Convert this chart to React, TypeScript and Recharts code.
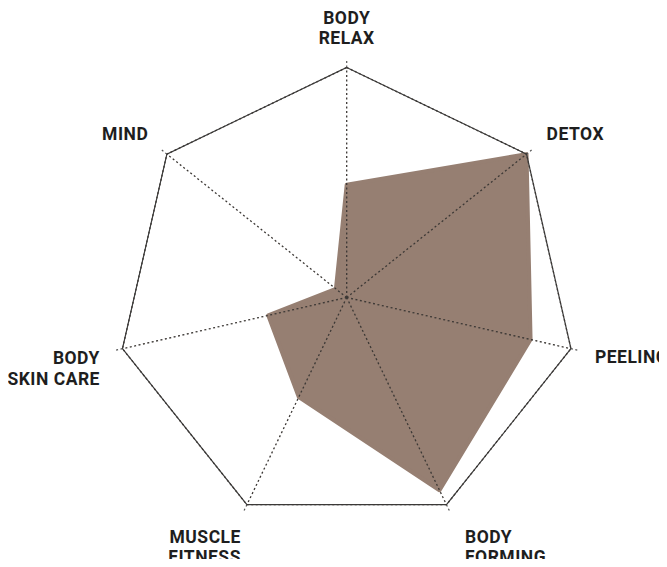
import { RadarChart, Radar, PolarGrid, PolarAngleAxis, PolarRadiusAxis } from "recharts"

// axis categories (clockwise from top)
const categories = ["BODY RELAX", "DETOX", "PEELING", "BODY FORMING", "MUSCLE FITNESS", "BODY SKIN CARE", "MIND"]
// how each axis label is broken over lines
const tickLines = [["BODY", "RELAX"], ["DETOX"], ["PEELING"], ["BODY", "FORMING"], ["MUSCLE", "FITNESS"], ["BODY", "SKIN CARE"], ["MIND"]]
// series values (0..1)
const scores = [0.49, 1.0, 0.82, 0.93, 0.48, 0.35, 0.06]

const data = categories.map((name, i) => ({ name, value: scores[i] }))

const W = 667
const H = 567
const CX = 346.7
const CY = 297.5
const R = 230
const FILL = "#967f72"

// label placement relative to each vertex: dx, dy of the first baseline, anchor, line height
const labelLayout = [
    { dx: 0, dy: -44, anchor: "middle", lh: 20 },
    { dx: 20, dy: -14, anchor: "start", lh: 20 },
    { dx: 24, dy: 14.6, anchor: "start", lh: 20 },
    { dx: 18.5, dy: 38.6, anchor: "start", lh: 20 },
    { dx: -6, dy: 38.6, anchor: "end", lh: 20 },
    { dx: -22.5, dy: 15.6, anchor: "end", lh: 21 },
    { dx: -18.6, dy: -14, anchor: "end", lh: 20 },
]

const AxisTick = (props: any) => {
    const i = props.index
    const a = ((90 - (i * 360) / categories.length) * Math.PI) / 180
    const vx = CX + R * Math.cos(a)
    const vy = CY - R * Math.sin(a)
    const l = labelLayout[i]
    return (
        <text
            x={vx + l.dx}
            y={vy + l.dy}
            textAnchor={l.anchor}
            fill="#1e1e1e"
            fontFamily="Roboto, sans-serif"
            fontWeight={700}
            fontSize={17.5}
            letterSpacing={0.5}
        >
            {tickLines[i].map((t, k) => (
                <tspan key={k} x={vx + l.dx} dy={k === 0 ? 0 : l.lh}>
                    {t}
                </tspan>
            ))}
        </text>
    )
}

export default function App() {
    return (
        <div style={{ width: W, height: H, margin: -8, background: "#fff", overflow: "hidden" }}>
            <RadarChart width={W} height={H} data={data} cx={CX} cy={CY} outerRadius={R} margin={{ top: 0, right: 0, bottom: 0, left: 0 }}>
                <PolarRadiusAxis domain={[0, 1]} tick={false} axisLine={false} />
                <Radar
                    dataKey="value"
                    fill={FILL}
                    fillOpacity={1}
                    stroke={FILL}
                    strokeWidth={4}
                    strokeLinejoin="round"
                    isAnimationActive={false}
                    dot={false}
                />
                <PolarGrid
                    gridType="polygon"
                    polarRadius={[R]}
                    stroke="#3c3835"
                    strokeWidth={1.3}
                    strokeDasharray="2 2.5"
                    zIndex={600}
                />
                <PolarAngleAxis
                    dataKey="name"
                    axisLineType="polygon"
                    axisLine={{ stroke: "#3a3a3a", strokeWidth: 1.2 }}
                    tickLine={{ stroke: "#555", strokeDasharray: "2 2.5", strokeWidth: 1.2 }}
                    tickSize={8}
                    tick={<AxisTick />}
                />
            </RadarChart>
        </div>
    )
}
